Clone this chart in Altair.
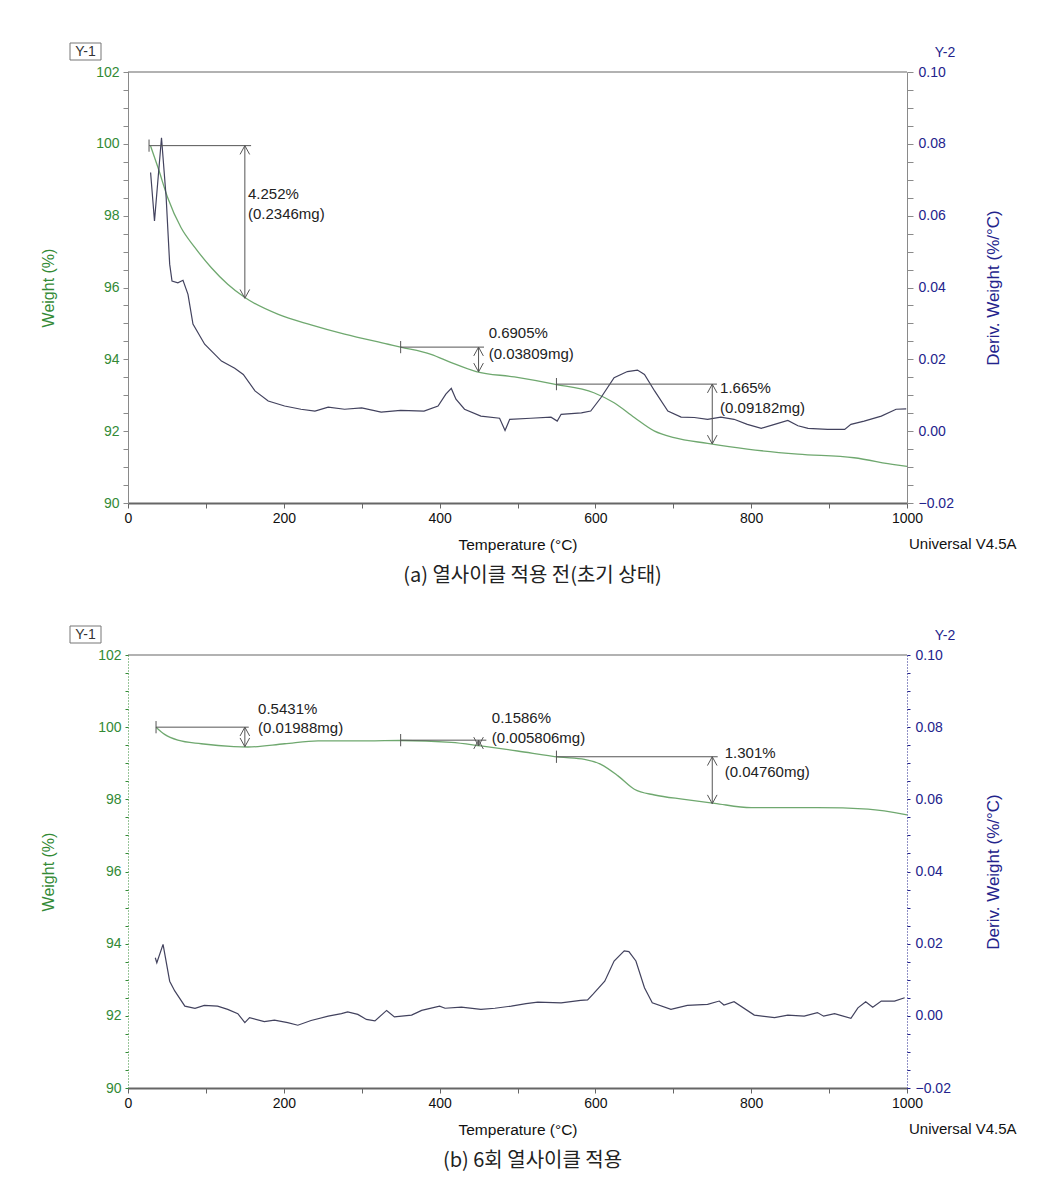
import altair as alt
import pandas as pd

# ---------------- Panel (a) data ----------------
a_tga_t = [29, 38.5, 51, 68, 86, 107, 128, 150, 193, 235, 278, 334, 350, 389, 415, 447,
           496, 547, 598, 624, 650, 676, 701, 744, 795, 860, 932, 986, 1000]
a_tga_w = [99.94, 99.34, 98.5, 97.67, 97.11, 96.55, 96.09, 95.72, 95.25, 94.96, 94.70, 94.42,
           94.34, 94.14, 93.91, 93.66, 93.51, 93.31, 93.07, 92.79, 92.38, 92.0, 91.82, 91.66,
           91.50, 91.36, 91.26, 91.06, 91.02]

a_dtg_t = [29, 34, 43, 49, 53.5, 56.5, 64, 70.6, 77, 83.4, 98.4, 120, 137, 148, 163, 180, 201,
           222, 240, 257, 278, 300, 325, 350, 380, 398, 408, 415, 421, 432, 453, 477, 484, 490,
           517, 543, 551, 556, 582, 594, 607, 624, 641, 654, 663, 676, 693, 710, 727, 744, 761,
           778, 795, 813, 830, 847, 860, 873, 898, 920, 928, 945, 967, 986, 999]
a_dtg_d = [0.0720, 0.0585, 0.0817, 0.0650, 0.0465, 0.0418, 0.0413, 0.0420, 0.0381, 0.0298,
           0.0242, 0.0195, 0.0175, 0.0158, 0.0112, 0.0084, 0.0070, 0.0061, 0.0056, 0.0067,
           0.0061, 0.0065, 0.0053, 0.0058, 0.0056, 0.0070, 0.0103, 0.0119, 0.0089, 0.0061,
           0.0042, 0.0036, 0.0002, 0.0033, 0.0036, 0.0039, 0.0028, 0.0047, 0.0051, 0.0056,
           0.0093, 0.0149, 0.0166, 0.0170, 0.0158, 0.0112, 0.0056, 0.0039, 0.0038, 0.0033,
           0.0039, 0.0033, 0.0019, 0.0008, 0.0019, 0.0030, 0.0015, 0.0008, 0.0005, 0.0005,
           0.0019, 0.0028, 0.0042, 0.0061, 0.0062]

a_hl_t1 = [27, 350, 550]
a_hl_t2 = [158, 457, 756]
a_arrow_t = [150, 450, 750]
a_arrow_top = [99.95, 94.34, 93.31]
a_arrow_bot = [95.70, 93.65, 91.645]
a_pct = ["4.252%", "0.6905%", "1.665%"]
a_mg = ["(0.2346mg)", "(0.03809mg)", "(0.09182mg)"]
a_lab_t = [154, 463, 760]
a_lab_w1 = [98.6, 94.73, 93.21]
a_lab_w2 = [98.04, 94.16, 92.65]

# ---------------- Panel (b) data ----------------
b_tga_t = [36, 47, 64, 94, 136, 154, 201, 244, 308, 350, 415, 453, 500, 554, 586, 607, 629,
           650, 676, 714, 753, 800, 885, 950, 1000]
b_tga_w = [100.0, 99.80, 99.64, 99.54, 99.46, 99.45, 99.54, 99.62, 99.62, 99.63, 99.58,
           99.48, 99.34, 99.17, 99.11, 98.97, 98.65, 98.28, 98.12, 98.0, 97.89, 97.77, 97.77,
           97.73, 97.57]

b_dtg_t = [35, 37, 45, 53.5, 60, 73, 86, 98, 115, 128, 141, 150, 156, 175, 188, 205, 218, 235,
           257, 274, 282, 295, 306, 317, 332, 342, 364, 377, 400, 407, 428, 453, 471, 492, 511,
           526, 556, 581, 590, 597, 612, 624, 637, 643, 652, 663, 673, 697, 718, 744, 759, 765,
           778, 804, 830, 847, 868, 885, 893, 907, 928, 937, 947, 956, 967, 984, 997]
b_dtg_d = [0.0161, 0.0147, 0.0198, 0.0096, 0.0069, 0.0027, 0.0021, 0.0029, 0.0027, 0.0018,
           0.0006, -0.0019, -0.0005, -0.0016, -0.0012, -0.0019, -0.0026, -0.0013, -0.0001,
           0.0006, 0.0011, 0.0004, -0.0010, -0.0014, 0.0015, -0.0003, 0.0002, 0.0015, 0.0027,
           0.0021, 0.0024, 0.0018, 0.0021, 0.0027, 0.0034, 0.0038, 0.0036, 0.0043, 0.0044,
           0.0060, 0.0096, 0.0152, 0.0180, 0.0178, 0.0152, 0.0078, 0.0036, 0.0018, 0.0029,
           0.0032, 0.0041, 0.0030, 0.0039, 0.0002, -0.0005, 0.0002, -0.0001, 0.0009, -0.0001,
           0.0006, -0.0007, 0.0022, 0.0039, 0.0024, 0.0041, 0.0041, 0.0050]

b_hl_t1 = [36, 350, 550]
b_hl_t2 = [155, 460, 757]
b_arrow_t = [150, 450, 750]
b_arrow_top = [100.0, 99.64, 99.18]
b_arrow_bot = [99.457, 99.48, 97.88]
b_pct = ["0.5431%", "0.1586%", "1.301%"]
b_mg = ["(0.01988mg)", "(0.005806mg)", "(0.04760mg)"]
b_lab_t = [167, 467, 766]
b_lab_w1 = [100.49, 100.26, 99.28]
b_lab_w2 = [99.97, 99.71, 98.77]

x_ticks = list(range(0, 1001, 50))
w_ticks = [90 + 0.5 * i for i in range(25)]
d_ticks = [round(-0.02 + 0.005 * i, 4) for i in range(25)]

FONT = "Liberation Sans"
GREEN = "#338a35"
NAVY = "#23238c"
TGA_COLOR = "#6fa86f"
DTG_COLOR = "#42425e"
ANN = "#555555"
W = 779

UP = "M-1.2,2.2 L0,0 L1.2,2.2"
DOWN = "M-1.2,-2.2 L0,0 L1.2,-2.2"


def panel(tga_t, tga_w, dtg_t, dtg_d, hl_t1, hl_t2, ar_t, ar_top, ar_bot,
          pct, mg, lab_t, lab_w1, lab_w2, subtitle, H, dotted, anchor):
    xsc = alt.Scale(domain=[0, 1000], nice=False, zero=False)
    ysc = alt.Scale(domain=[90, 102], nice=False, zero=False)
    dsc = alt.Scale(domain=[-0.02, 0.10], nice=False, zero=False)

    xaxis = alt.Axis(values=x_ticks, format="d",
                     labelExpr="datum.value % 200 == 0 ? datum.label : ''",
                     title="Temperature (°C)", titleX=W / 2, titleY=41,
                     titleBaseline="middle", titleAlign="center",
                     titleFont=FONT, titleFontSize=15.5, titleFontWeight="normal",
                     titleColor="#111111", labelFont=FONT, labelFontSize=14,
                     labelColor="#111111", labelPadding=3, tickSize=5,
                     tickColor="#666666", domainColor="#666666", domainWidth=2,
                     grid=False, labelOverlap=False, labelFlush=False)

    left_kw = dict(orient="left", values=w_ticks, format=".0f",
                   labelExpr="round(datum.value*10) % 20 == 0 ? datum.label : ''",
                   title="Weight (%)", titleX=-80, titleY=H / 2, titleAngle=270,
                   titleAlign="center", titleBaseline="middle", titleFont=FONT,
                   titleFontSize=16, titleFontWeight="normal", titleColor=GREEN,
                   labelFont=FONT, labelFontSize=14, labelColor=GREEN, labelPadding=4,
                   tickSize=5, grid=False, labelOverlap=False, labelFlush=False)
    right_kw = dict(orient="right", values=d_ticks, format=".2f",
                    labelExpr="abs(round(datum.value*1000)) % 20 == 0 ? datum.label : ''",
                    title="Deriv. Weight (%/°C)", titleX=86, titleY=H / 2, titleAngle=270,
                    titleAlign="center", titleBaseline="middle", titleFont=FONT,
                    titleFontSize=17, titleFontWeight="normal", titleColor=NAVY,
                    labelFont=FONT, labelFontSize=14, labelColor=NAVY, labelPadding=5,
                    tickSize=6, grid=False, labelOverlap=False, labelFlush=False)
    if dotted:
        left_kw.update(domainColor=GREEN, domainDash=[1, 2], tickColor=GREEN, tickSize=3)
        right_kw.update(domainColor=NAVY, domainDash=[1, 2], tickColor=NAVY, tickSize=3)
    else:
        left_kw.update(domainColor="#8a8a8a", tickColor="#8a8a8a")
        right_kw.update(domainColor="#8a8a8a", tickColor="#8a8a8a")

    tga_df = pd.DataFrame({"T": tga_t, "w": tga_w})
    dtg_df = pd.DataFrame({"T": dtg_t, "d": dtg_d})
    hl_df = pd.DataFrame({"t1": hl_t1, "t2": hl_t2, "w": ar_top})
    ar_df = pd.DataFrame({"t": ar_t, "top": ar_top, "bot": ar_bot})
    lab_df = pd.DataFrame({"t": lab_t, "w1": lab_w1, "w2": lab_w2, "pct": pct, "mg": mg})
    tk_df = pd.DataFrame({"t": hl_t1, "lo": [v - 0.17 for v in ar_top],
                          "hi": [v + 0.17 for v in ar_top]})

    tga = alt.Chart(tga_df).mark_line(color=TGA_COLOR, strokeWidth=1.3,
                                      interpolate="monotone").encode(
        x=alt.X("T:Q", scale=xsc, axis=xaxis),
        y=alt.Y("w:Q", scale=ysc, axis=alt.Axis(**left_kw)))
    dtg = alt.Chart(dtg_df).mark_line(color=DTG_COLOR, strokeWidth=1.2).encode(
        x=alt.X("T:Q", scale=xsc),
        y=alt.Y("d:Q", scale=dsc, axis=alt.Axis(**right_kw)))

    hline = alt.Chart(hl_df).mark_rule(color=ANN, strokeWidth=1).encode(
        x=alt.X("t1:Q", scale=xsc), x2="t2:Q",
        y=alt.Y("w:Q", scale=ysc, axis=None))
    tick = alt.Chart(tk_df).mark_rule(color=ANN, strokeWidth=1).encode(
        x=alt.X("t:Q", scale=xsc),
        y=alt.Y("lo:Q", scale=ysc, axis=None), y2="hi:Q")
    vline = alt.Chart(ar_df).mark_rule(color=ANN, strokeWidth=1).encode(
        x=alt.X("t:Q", scale=xsc),
        y=alt.Y("top:Q", scale=ysc, axis=None), y2="bot:Q")
    head_up = alt.Chart(ar_df).mark_point(shape=UP, size=64, filled=False,
                                          color=ANN, strokeWidth=1, opacity=1).encode(
        x=alt.X("t:Q", scale=xsc), y=alt.Y("top:Q", scale=ysc, axis=None))
    head_dn = alt.Chart(ar_df).mark_point(shape=DOWN, size=64, filled=False,
                                          color=ANN, strokeWidth=1, opacity=1).encode(
        x=alt.X("t:Q", scale=xsc), y=alt.Y("bot:Q", scale=ysc, axis=None))
    txt1 = alt.Chart(lab_df).mark_text(align="left", baseline="middle", font=FONT,
                                       fontSize=15, color="#222222").encode(
        x=alt.X("t:Q", scale=xsc), y=alt.Y("w1:Q", scale=ysc, axis=None), text="pct:N")
    txt2 = alt.Chart(lab_df).mark_text(align="left", baseline="middle", font=FONT,
                                       fontSize=15, color="#222222").encode(
        x=alt.X("t:Q", scale=xsc), y=alt.Y("w2:Q", scale=ysc, axis=None), text="mg:N")

    frame = alt.Chart(pd.DataFrame({"k": [0]})).mark_rule(color="#666666",
                                                          strokeWidth=1.2).encode(
        x=alt.value(0), x2=alt.value(W), y=alt.value(0))
    y1box = alt.Chart(pd.DataFrame({"k": [0]})).mark_rect(filled=False, color="#777777",
                                                          strokeWidth=1).encode(
        x=alt.value(-58), x2=alt.value(-27), y=alt.value(-29), y2=alt.value(-12))
    y1txt = alt.Chart(pd.DataFrame({"s": ["Y-1"]})).mark_text(
        font=FONT, fontSize=14, color="#333333", align="center", baseline="middle").encode(
        x=alt.value(-42.5), y=alt.value(-20), text="s:N")
    y2txt = alt.Chart(pd.DataFrame({"s": ["Y-2"]})).mark_text(
        font=FONT, fontSize=14, color=NAVY, align="center", baseline="middle").encode(
        x=alt.value(817), y=alt.value(-19), text="s:N")
    univ = alt.Chart(pd.DataFrame({"s": ["Universal V4.5A"]})).mark_text(
        font=FONT, fontSize=15, color="#111111", align="left", baseline="middle").encode(
        x=alt.value(W + 2), y=alt.value(H + 41), text="s:N")
    sub = alt.Chart(pd.DataFrame({"s": [subtitle]})).mark_text(
        font="Noto Sans CJK KR", fontSize=20, color="#222222", align="center",
        baseline="middle").encode(
        x=alt.value(W / 2 + 15), y=alt.value(H + 73), text="s:N")

    layers = [tga, dtg, hline, tick, vline, head_up, head_dn, txt1, txt2,
              frame, y1box, y1txt, y2txt, univ, sub]
    if anchor == "top":
        anc = alt.Chart(pd.DataFrame({"k": [0]})).mark_rule(color="white").encode(
            x=alt.value(-119), x2=alt.value(-118), y=alt.value(-63), y2=alt.value(-63))
        layers.append(anc)
    else:
        anc = alt.Chart(pd.DataFrame({"k": [0]})).mark_rule(color="white").encode(
            x=alt.value(0), x2=alt.value(1), y=alt.value(H + 90), y2=alt.value(H + 90))
        layers.append(anc)
    return alt.layer(*layers).resolve_scale(y="independent").properties(width=W, height=H)


top = panel(a_tga_t, a_tga_w, a_dtg_t, a_dtg_d, a_hl_t1, a_hl_t2, a_arrow_t, a_arrow_top,
            a_arrow_bot, a_pct, a_mg, a_lab_t, a_lab_w1, a_lab_w2,
            "(a) 열사이클 적용 전(초기 상태)", 431, False, "top")
bottom = panel(b_tga_t, b_tga_w, b_dtg_t, b_dtg_d, b_hl_t1, b_hl_t2, b_arrow_t, b_arrow_top,
               b_arrow_bot, b_pct, b_mg, b_lab_t, b_lab_w1, b_lab_w2,
               "(b) 6회 열사이클 적용", 433, True, "bottom")

chart = alt.vconcat(top, bottom, spacing=152, bounds="flush").properties(
    padding=0, background="white").configure_view(stroke=None)

chart.save("out.html", embed_options={"renderer": "svg", "actions": False})
